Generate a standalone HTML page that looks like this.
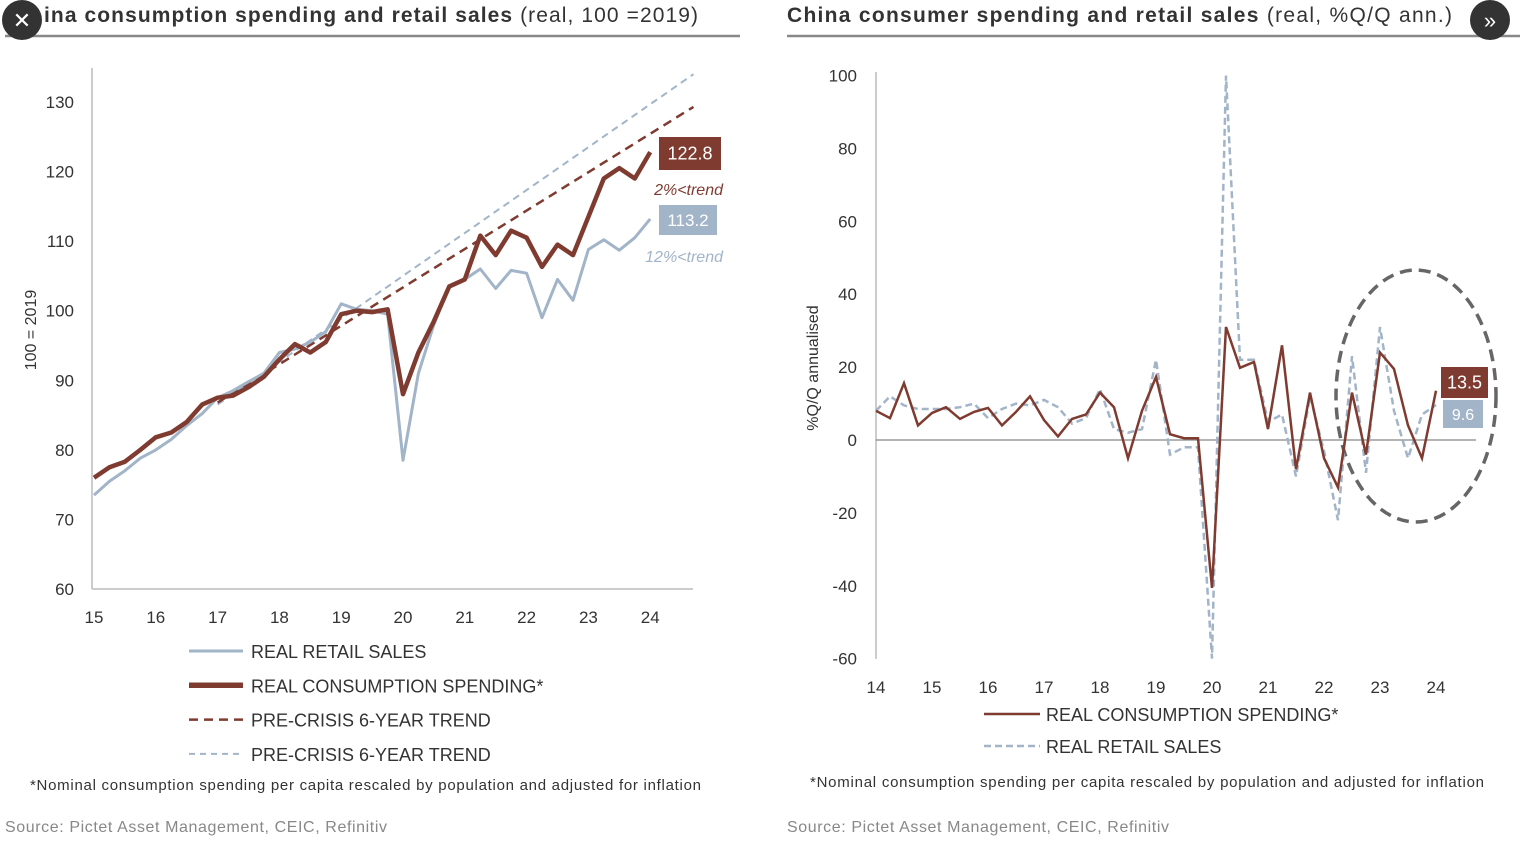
<!DOCTYPE html>
<html><head><meta charset="utf-8"><style>
body{margin:0;background:#fff;width:1530px;height:839px;overflow:hidden;font-family:"Liberation Sans",sans-serif}
svg text{font-family:"Liberation Sans",sans-serif}
</style></head><body>
<svg id="s" width="1530" height="839" viewBox="0 0 1530 839" xmlns="http://www.w3.org/2000/svg">
<g>
<text x="44" y="22" font-size="21" fill="#333" textLength="654" lengthAdjust="spacing"><tspan font-weight="bold">ina consumption spending and retail sales</tspan> (real, 100 =2019)</text>
<line x1="5" y1="36" x2="740" y2="36" stroke="#888" stroke-width="2.5"/>
</g>
<g>
<text x="787" y="22" font-size="21" fill="#333" textLength="665" lengthAdjust="spacing"><tspan font-weight="bold">China consumer spending and retail sales</tspan> (real, %Q/Q ann.)</text>
<line x1="787" y1="36" x2="1520" y2="36" stroke="#888" stroke-width="2.5"/>
</g>
<g><circle cx="22" cy="20" r="20" fill="#333"/><text x="22" y="28" font-size="22" fill="#fff" text-anchor="middle">✕</text></g>
<g><circle cx="1490" cy="20" r="20" fill="#333"/><text x="1490" y="28" font-size="22" fill="#fff" text-anchor="middle">»</text></g>
<g id="left"></g>
<g id="right"></g>
<text x="30" y="790" font-size="15" fill="#333" textLength="671" lengthAdjust="spacing">*Nominal consumption spending per capita rescaled by population and adjusted for inflation</text>
<text x="810" y="787" font-size="15" fill="#333" textLength="674" lengthAdjust="spacing">*Nominal consumption spending per capita rescaled by population and adjusted for inflation</text>
<text x="5" y="832" font-size="16" fill="#888" textLength="382" lengthAdjust="spacing">Source: Pictet Asset Management, CEIC, Refinitiv</text>
<text x="787" y="832" font-size="16" fill="#888" textLength="382" lengthAdjust="spacing">Source: Pictet Asset Management, CEIC, Refinitiv</text>
</svg>
<script>
// ---- Left chart data ----
const leftYears=[15,16,17,18,19,20,21,22,23,24];
const leftYTicks=[60,70,80,90,100,110,120,130];
const consLevel=[76,77.5,78.3,80,81.8,82.5,84,86.5,87.5,87.8,89,90.5,93,95.2,94,95.5,99.5,100,99.8,100.2,88,94,98.5,103.5,104.5,110.8,108,111.5,110.5,106.3,109.5,108,113.5,119,120.5,119,122.8];
const retailLevel=[73.5,75.5,77,78.8,80,81.5,83.5,85.2,87.5,88.5,89.8,91,94,94.5,95.5,97,101,100.2,100,99.5,78.5,91,98,103.5,104.5,106,103.2,105.8,105.4,99,104.5,101.5,108.8,110.2,108.7,110.5,113.2];
const trendConsT=[17,24.7];
const trendConsV=[86.8,129.3];
const trendRetT=[17,24.7];
const trendRetV=[86.5,134];
// ---- Right chart data ----
const rightYears=[14,15,16,17,18,19,20,21,22,23,24];
const rightYTicks=[-60,-40,-20,0,20,40,60,80,100];
const consQoQ=[8,6,15.6,4,7.4,9,5.8,7.7,8.8,4,7.7,12,5.5,1,5.8,7,13,9,-5,8,17.3,1.6,0.5,0.5,-40.6,31,19.8,21.4,3,26,-8,13,-5,-13,13,-4,24,19.5,4,-5,13.5];
const retailQoQ=[8,12,9.5,8.5,8.5,8.5,9,10,6,8.5,10,9.5,11,9,4.5,6,14,3,2,3,22,-4,-2,-2,-60,100,22,22,5,7,-10,12,-3,-22,23,-9,31,8,-5,7,9.6];

const NS="http://www.w3.org/2000/svg";
const RED="#7f3b30",BLUE="#a2b4c8";
function mk(p,tag,at){const e=document.createElementNS(NS,tag);for(const k in at)e.setAttribute(k,at[k]);p.appendChild(e);return e;}
function path(xs,ys){return xs.map((x,i)=>(i?'L':'M')+x.toFixed(1)+','+ys[i].toFixed(1)).join('');}

// Left
const L=document.getElementById('left');
const lx=t=>94+(t-15)*61.8, ly=v=>589-(v-60)*6.957;
mk(L,'line',{x1:92,y1:68,x2:92,y2:589,stroke:'#bbb','stroke-width':1.5});
mk(L,'line',{x1:92,y1:589,x2:693,y2:589,stroke:'#bbb','stroke-width':1.5});
leftYTicks.forEach(v=>{const t=mk(L,'text',{x:74,y:ly(v)+6,'font-size':17,fill:'#333','text-anchor':'end'});t.textContent=v;

});
leftYears.forEach(y=>{const t=mk(L,'text',{x:lx(y),y:623,'font-size':17,fill:'#333','text-anchor':'middle'});t.textContent=y;

});
const yt=mk(L,'text',{x:0,y:0,'font-size':16,fill:'#333','text-anchor':'middle',transform:'translate(36,330) rotate(-90)'});yt.textContent='100 = 2019';


const tr1=mk(L,'path',{d:path(trendRetT.map(lx),trendRetV.map(ly)),stroke:BLUE,'stroke-width':2,'stroke-dasharray':'7,5',fill:'none'});


const tr2=mk(L,'path',{d:path(trendConsT.map(lx),trendConsV.map(ly)),stroke:RED,'stroke-width':2.5,'stroke-dasharray':'9,6',fill:'none'});


const qt=consLevel.map((_,i)=>15+i/4);
const rl=mk(L,'path',{d:path(qt.map(lx),retailLevel.map(ly)),stroke:BLUE,'stroke-width':3,fill:'none','stroke-linejoin':'round'});


const cl=mk(L,'path',{d:path(qt.map(lx),consLevel.map(ly)),stroke:RED,'stroke-width':4.5,fill:'none','stroke-linejoin':'round'});


function badge(p,x,y,w,h,col,txt,fs,name){const g=mk(p,'g',{});
mk(g,'rect',{x:x,y:y,width:w,height:h,fill:col});const t=mk(g,'text',{x:x+w/2,y:y+h/2+6,'font-size':fs,fill:'#fff','text-anchor':'middle'});t.textContent=txt;}
badge(L,659,137,62,33,RED,consLevel[consLevel.length-1].toFixed(1),18,'consumption-end-label');
badge(L,659,205,58,30,BLUE,retailLevel[retailLevel.length-1].toFixed(1),17,'retail-end-label');
const a1=mk(L,'text',{x:723,y:195,'font-size':16,fill:RED,'font-style':'italic','text-anchor':'end'});a1.textContent='2%<trend';


const a2=mk(L,'text',{x:723,y:262,'font-size':16,fill:BLUE,'font-style':'italic','text-anchor':'end'});a2.textContent='12%<trend';


const legL=[['REAL RETAIL SALES',BLUE,3,''],['REAL CONSUMPTION SPENDING*',RED,5.5,''],['PRE-CRISIS 6-YEAR TREND',RED,2.5,'9,6'],['PRE-CRISIS 6-YEAR TREND',BLUE,2,'6,5']];
legL.forEach((l,i)=>{const y=651+i*34.3;const g=mk(L,'g',{});


mk(g,'line',{x1:189,y1:y,x2:243,y2:y,stroke:l[1],'stroke-width':l[2],'stroke-dasharray':l[3]});
const t=mk(g,'text',{x:251,y:y+7,'font-size':18,fill:'#333'});t.textContent=l[0];});

// Right
const R=document.getElementById('right');
const rx=t=>876+(t-14)*56, ry=v=>440-v*3.644;
mk(R,'line',{x1:876,y1:72,x2:876,y2:659,stroke:'#bbb','stroke-width':1.5});
mk(R,'line',{x1:876,y1:440,x2:1476,y2:440,stroke:'#888','stroke-width':1.2});
rightYTicks.forEach(v=>{const t=mk(R,'text',{x:857,y:ry(v)+6,'font-size':17,fill:'#333','text-anchor':'end'});t.textContent=v;

});
rightYears.forEach(y=>{const t=mk(R,'text',{x:rx(y),y:693,'font-size':17,fill:'#333','text-anchor':'middle'});t.textContent=y;

});
const yt2=mk(R,'text',{x:0,y:0,'font-size':16,fill:'#333','text-anchor':'middle',transform:'translate(818,368) rotate(-90)'});yt2.textContent='%Q/Q annualised';


const ell=mk(R,'ellipse',{cx:1416,cy:396,rx:80,ry:126,fill:'none',stroke:'#666','stroke-width':3.5,'stroke-dasharray':'12,7'});


const q2=consQoQ.map((_,i)=>14+i/4);
const rr=mk(R,'path',{d:path(q2.map(rx),retailQoQ.map(ry)),stroke:BLUE,'stroke-width':2.5,'stroke-dasharray':'7,4',fill:'none'});


const rc=mk(R,'path',{d:path(q2.map(rx),consQoQ.map(ry)),stroke:RED,'stroke-width':2.5,fill:'none'});


badge(R,1441,367,47,31,RED,consQoQ[consQoQ.length-1].toFixed(1),18,'consumption-qoq-end-label');
badge(R,1443,400,40,28,BLUE,retailQoQ[retailQoQ.length-1].toFixed(1),16,'retail-qoq-end-label');
const legR=[['REAL CONSUMPTION SPENDING*',RED,''],['REAL RETAIL SALES',BLUE,'7,4']];
legR.forEach((l,i)=>{const y=714+i*32;const g=mk(R,'g',{});


mk(g,'line',{x1:984,y1:y,x2:1040,y2:y,stroke:l[1],'stroke-width':2.5,'stroke-dasharray':l[2]});
const t=mk(g,'text',{x:1046,y:y+7,'font-size':18,fill:'#333'});t.textContent=l[0];});
</script>
</body></html>
